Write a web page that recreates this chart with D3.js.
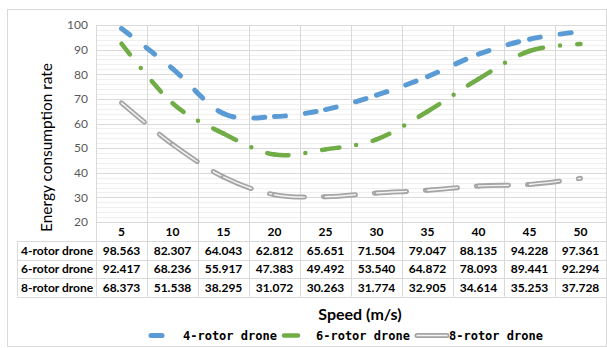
<!DOCTYPE html>
<html>
<head>
<meta charset="utf-8">
<script src="https://cdn.jsdelivr.net/npm/d3@7"></script>
<style>
  html, body { margin: 0; padding: 0; background: #fff; }
  svg { display: block; }
</style>
</head>
<body>
<svg id="chart" width="607" height="348"></svg>
<script>
// Speeds (m/s) on the category axis
const speeds = [5, 10, 15, 20, 25, 30, 35, 40, 45, 50];
// Energy consumption rate per drone type
const rotor4 = [98.563, 82.307, 64.043, 62.812, 65.651, 71.504, 79.047, 88.135, 94.228, 97.361];
const rotor6 = [92.417, 68.236, 55.917, 47.383, 49.492, 53.540, 64.872, 78.093, 89.441, 92.294];
const rotor8 = [68.373, 51.538, 38.295, 31.072, 30.263, 31.774, 32.905, 34.614, 35.253, 37.728];
const seriesNames = ["4-rotor drone", "6-rotor drone", "8-rotor drone"];
const yTicks = [20, 30, 40, 50, 60, 70, 80, 90, 100];

const series = [
  { name: seriesNames[0], values: rotor4, color: "#5b9bd5", width: 5, dash: "11,20", kind: "solid" },
  { name: seriesNames[1], values: rotor6, color: "#70ad47", width: 4.5, dash: "14,17,0,17", kind: "solid" },
  { name: seriesNames[2], values: rotor8, color: "#a5a5a5", width: 5, dash: "30,19", kind: "double" }
];

const svg = d3.select("#chart");
const font = "Lato, 'Open Sans', sans-serif";

const plot = { left: 96, right: 606, top: 25, bottom: 222 };
const table = { left: 17, rowH: 18.5 };

const x = d3.scaleBand().domain(speeds).range([plot.left, plot.right]);
const y = d3.scaleLinear().domain([20, 100]).range([plot.bottom, plot.top]);

// Chart frame
svg.append("rect")
  .attr("x", 7.5).attr("y", 9.5).attr("width", 599).attr("height", 337)
  .attr("fill", "#fff").attr("stroke", "#d9d9d9");

// Minor and major horizontal gridlines
const minor = d3.range(20, 100.01, 2).filter(v => v % 10 !== 0);
svg.append("g").selectAll("line").data(minor).join("line")
  .attr("x1", plot.left).attr("x2", plot.right)
  .attr("y1", d => Math.round(y(d)) + 0.5).attr("y2", d => Math.round(y(d)) + 0.5)
  .attr("stroke", "#efefef").attr("stroke-width", 1);
svg.append("g").selectAll("line").data(yTicks).join("line")
  .attr("x1", plot.left).attr("x2", plot.right)
  .attr("y1", d => Math.round(y(d)) + 0.5).attr("y2", d => Math.round(y(d)) + 0.5)
  .attr("stroke", "#d9d9d9").attr("stroke-width", 1);

// Data table geometry
const headerBottom = plot.bottom + 19;
const rowTops = seriesNames.map((_, i) => headerBottom + i * table.rowH);
const tableBottom = headerBottom + seriesNames.length * table.rowH;

// Vertical category boundaries run through the plot and the table
const bounds = speeds.map(s => x(s)).concat([plot.right]);
svg.append("g").selectAll("line").data(bounds).join("line")
  .attr("x1", d => Math.round(d) + 0.5).attr("x2", d => Math.round(d) + 0.5)
  .attr("y1", plot.top).attr("y2", tableBottom)
  .attr("stroke", "#d9d9d9");

// Table row lines
const rowLines = rowTops.concat([tableBottom]);
svg.append("g").selectAll("line").data(rowLines).join("line")
  .attr("x1", table.left).attr("x2", plot.right)
  .attr("y1", d => Math.round(d) + 0.5).attr("y2", d => Math.round(d) + 0.5)
  .attr("stroke", "#d9d9d9");
svg.append("line")
  .attr("x1", table.left + 0.5).attr("x2", table.left + 0.5)
  .attr("y1", headerBottom).attr("y2", tableBottom)
  .attr("stroke", "#d9d9d9");

// Y axis labels
const yAxis = d3.axisLeft(y).tickValues(yTicks).tickSize(0).tickPadding(8);
const gy = svg.append("g").attr("transform", `translate(${plot.left},0)`).call(yAxis);
gy.select(".domain").remove();
gy.selectAll("text").attr("font-family", font).attr("font-size", 12).attr("fill", "#595959");

// Y axis title, sized to span the value axis from 63 to 232
const yTitle = svg.append("text")
  .attr("transform", "translate(52,147.5) rotate(-90)")
  .attr("text-anchor", "middle")
  .attr("font-family", font).attr("font-size", 15).attr("fill", "#000")
  .text("Energy consumption rate");
const titleLen = yTitle.node().getComputedTextLength();
if (titleLen > 0) yTitle.attr("font-size", 15 * 169 / titleLen);

// Header row: speed categories
svg.append("g").selectAll("text").data(speeds).join("text")
  .attr("x", d => x(d) + x.bandwidth() / 2)
  .attr("y", (plot.bottom + headerBottom) / 2)
  .attr("dy", "0.36em")
  .attr("text-anchor", "middle")
  .attr("font-family", font).attr("font-size", 12).attr("font-weight", 700)
  .text(d => d);

// Table body: series name and values
series.forEach((s, i) => {
  const cy = rowTops[i] + table.rowH / 2;
  svg.append("text")
    .attr("x", table.left + 4).attr("y", cy).attr("dy", "0.36em")
    .attr("font-family", font).attr("font-size", 12).attr("font-weight", 700)
    .text(s.name);
  svg.append("g").selectAll("text").data(s.values).join("text")
    .attr("x", (d, j) => x(speeds[j]) + x.bandwidth() / 2)
    .attr("y", cy).attr("dy", "0.36em")
    .attr("text-anchor", "middle")
    .attr("font-family", font).attr("font-size", 12).attr("font-weight", 700)
    .text(d => d.toFixed(3));
});

// Split a smoothed line into one path per data interval so each
// interval starts its dash pattern afresh.
function segmentPaths(values) {
  const segs = [];
  let cx = 0, cy = 0;
  const ctx = {
    moveTo(px, py) { cx = px; cy = py; },
    lineTo(px, py) { segs.push(`M${cx},${cy}L${px},${py}`); cx = px; cy = py; },
    bezierCurveTo(a, b, c, d, px, py) {
      segs.push(`M${cx},${cy}C${a},${b},${c},${d},${px},${py}`); cx = px; cy = py;
    },
    closePath() {}
  };
  d3.line()
    .x((d, j) => x(speeds[j]) + x.bandwidth() / 2)
    .y(d => y(d))
    .curve(d3.curveCardinal.tension(0))
    .context(ctx)(values);
  return segs;
}

function strokeSeries(g, s, pathData) {
  g.append("path").attr("d", pathData)
    .attr("fill", "none").attr("stroke", s.color)
    .attr("stroke-width", s.width).attr("stroke-linecap", "round")
    .attr("stroke-dasharray", s.dash);
  if (s.kind === "double") {
    g.append("path").attr("d", pathData)
      .attr("fill", "none").attr("stroke", "#f4f4f4")
      .attr("stroke-width", 1.4).attr("stroke-linecap", "round")
      .attr("stroke-dasharray", s.dash);
  }
}

const linesG = svg.append("g");
series.forEach(s => {
  const g = linesG.append("g");
  segmentPaths(s.values).forEach(p => strokeSeries(g, s, p));
});

// X axis title
svg.append("text")
  .attr("x", 360).attr("y", 320)
  .attr("text-anchor", "middle")
  .attr("font-family", font).attr("font-size", 16).attr("font-weight", 700)
  .text("Speed (m/s)");

// Legend
const legendX = [183, 316, 449];
const legendY = 335.5;
series.forEach((s, i) => {
  const g = svg.append("g");
  const x0 = legendX[i] - 34;
  strokeSeries(g, s, `M${x0 + 2},${legendY}L${x0 + 33},${legendY}`);
  g.append("text")
    .attr("x", legendX[i]).attr("y", legendY).attr("dy", "0.35em")
    .attr("font-family", "'DejaVu Sans Mono', monospace")
    .attr("font-size", 12).attr("font-weight", 700)
    .text(s.name);
});
</script>
</body>
</html>
